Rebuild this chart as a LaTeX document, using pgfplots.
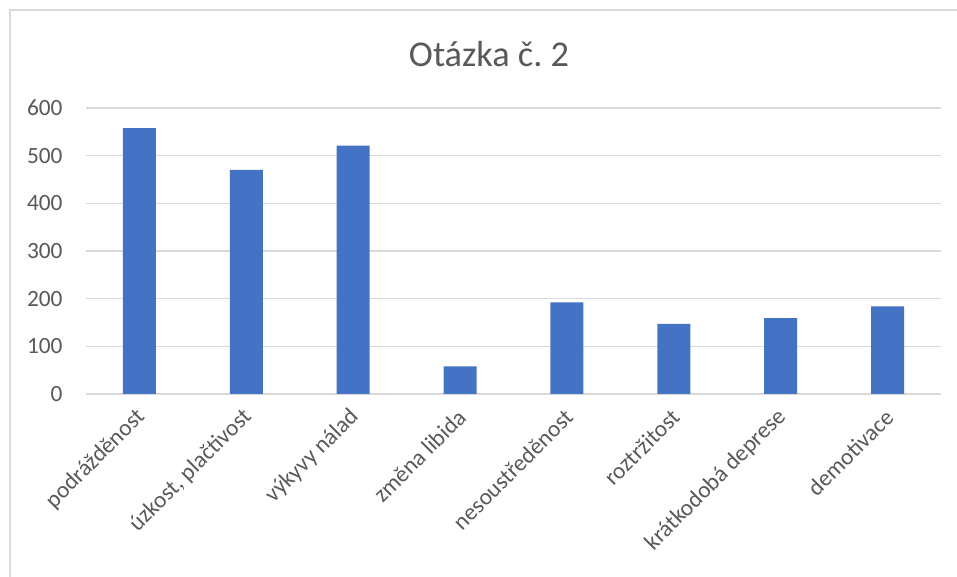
\documentclass[border=0pt]{standalone}
\usepackage{pgfplots}
\pgfplotsset{compat=1.18}
\usepackage{fontspec}
\setmainfont{Carlito}
\definecolor{barblue}{HTML}{4472C4}
\definecolor{gridgray}{HTML}{D9D9D9}
\definecolor{txtgray}{HTML}{595959}
\begin{document}
\begin{tikzpicture}[x=1pt,y=1pt]
\path[use as bounding box] (0,0) rectangle (957,577);
\fill[white] (0,0) rectangle (957,577);
\draw[gridgray, line width=1.2pt] (10,0) -- (10,567) -- (957,567);
\node[txtgray, font=\fontsize{36.3}{43}\selectfont, anchor=base] at (489,510) {Otázka č.\ 2};
\begin{axis}[
  at={(86pt,183pt)}, anchor=south west,
  scale only axis, width=855pt, height=286pt,
  xmin=-0.5, xmax=7.5, ymin=0, ymax=600,
  ytick={0,100,...,600},
  xtick={0,...,7},
  xticklabels={podrážděnost,{úzkost, plačtivost},výkyvy nálad,změna libida,nesoustředěnost,roztržitost,krátkodobá deprese,demotivace},
  axis line style={draw=none},
  major tick style={draw=none},
  ymajorgrids,
  grid style={gridgray, line width=1.2pt},
  tick label style={txtgray, font=\fontsize{23.3}{28}\selectfont},
  /pgf/number format/assume math mode=true,
  yticklabel style={xshift=-20pt},
  xticklabel style={rotate=45, anchor=east, xshift=-6pt, yshift=-12pt},
  ybar, bar width=33pt,
]
\addplot[fill=barblue, draw=none] coordinates {
 (0,558) (1,470) (2,521) (3,58) (4,192) (5,147) (6,159) (7,184)
};
\end{axis}
\end{tikzpicture}
\end{document}
